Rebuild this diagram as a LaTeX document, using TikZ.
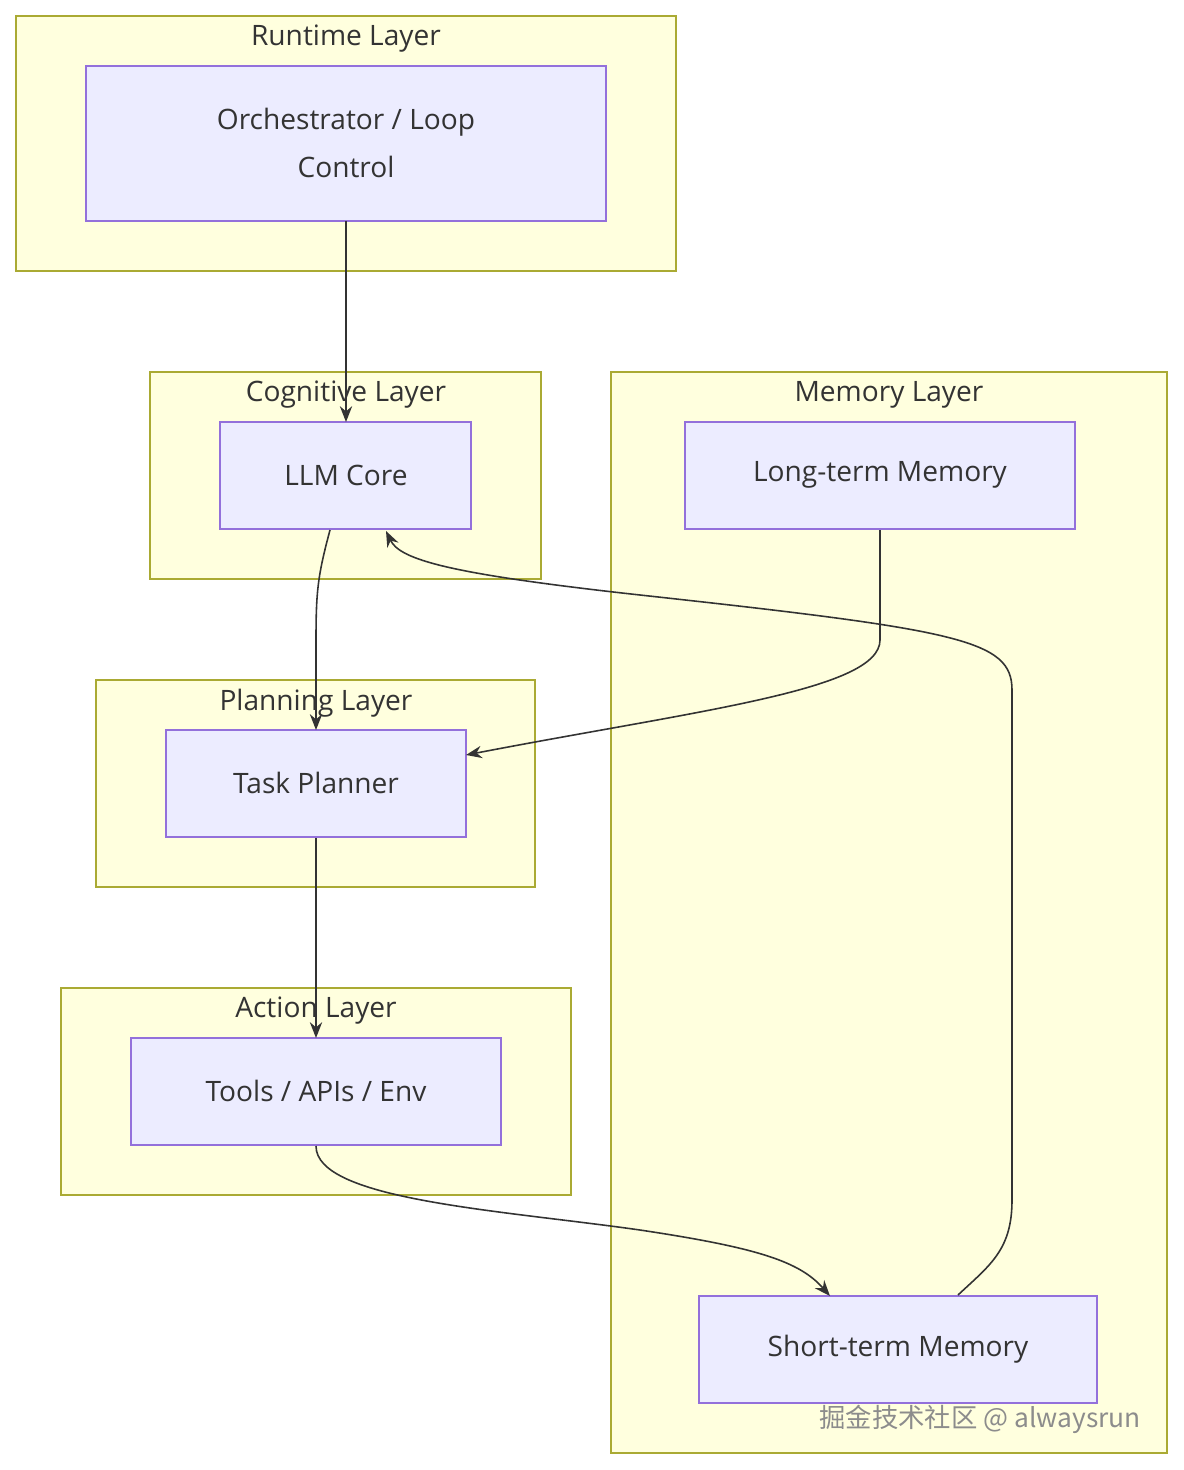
\documentclass[tikz,border=0pt]{standalone}
\usepackage{fontspec}
\setmainfont{Open Sans}
\newfontfamily\cjkfont{Noto Sans CJK SC}
\usetikzlibrary{arrows.meta,positioning,calc}
\definecolor{clusterfill}{HTML}{FFFFDE}
\definecolor{clusterline}{HTML}{AAAA33}
\definecolor{boxfill}{HTML}{ECECFF}
\definecolor{boxline}{HTML}{9370DB}
\begin{document}
\begin{tikzpicture}[
        % one unit is one pixel of the reference
        x=0.02cm, y=-0.02cm,
        layer/.style={draw=clusterline, fill=clusterfill, line width=0.9pt},
        box/.style={draw=boxline, fill=boxfill, line width=0.9pt},
        title/.style={font=\fontsize{16}{20}\selectfont, text=black!80},
        label/.style={font=\fontsize{16}{27}\selectfont, text=black!80, align=center},
        flow/.style={draw=black!80, line width=0.9pt, -{Stealth[length=9pt,width=7pt]}}
    ]
    \useasboundingbox (0,0) rectangle (1183,1470);

    % Layers
    \draw[layer] (16,16) rectangle (676,271);
    \node[title] (runtime) at (346,39) {Runtime Layer};
    \draw[layer] (150,372) rectangle (541,579);
    \node[title] (cognitive) at (346,395) {Cognitive Layer};
    \draw[layer] (611,372) rectangle (1167,1453);
    \node[title] (memory) at (889,395) {Memory Layer};
    \draw[layer] (96,680) rectangle (535,887);
    \node[title] (planning) at (316,703) {Planning Layer};
    \draw[layer] (61,988) rectangle (571,1195);
    \node[title] (action) at (316,1011) {Action Layer};

    % Components
    \draw[box] (86,66) rectangle (606,221);
    \node[label] (orch) at (346,143) {Orchestrator / Loop\\Control};
    \coordinate (orchS) at (346,221);
    \draw[box] (220,422) rectangle (471,529);
    \node[label] (llm) at (346,475) {LLM Core};
    \draw[box] (685,422) rectangle (1075,529);
    \node[label] (ltm) at (880,475) {Long-term Memory};
    \draw[box] (166,730) rectangle (466,837);
    \node[label] (task) at (316,783) {Task Planner};
    \draw[box] (131,1038) rectangle (501,1145);
    \node[label] (tools) at (316,1091) {Tools / APIs / Env};
    \draw[box] (699,1296) rectangle (1097,1403);
    \node[label] (stm) at (898,1349) {Short-term Memory};

    % Anchors of the connectors
    \coordinate (llmN) at (346,422);
    \coordinate (llmS) at (330,530);
    \coordinate (llmR) at (386,531);
    \coordinate (ltmS) at (880,530);
    \coordinate (taskN) at (316,730);
    \coordinate (taskS) at (316,838);
    \coordinate (taskE) at (466,755);
    \coordinate (toolsN) at (316,1038);
    \coordinate (toolsS) at (316,1146);
    \coordinate (stmN) at (830,1296);
    \coordinate (stmOut) at (958,1295);

    % Connectors
    \draw[flow] (orchS) -- (llmN);
    \draw[flow] (llmS) .. controls (318,575) and (316,590) .. (316,640) -- (taskN);
    \draw[flow] (ltmS) -- (880,640) .. controls (880,690) and (700,710) .. (taskE);
    \draw[flow] (taskS) -- (toolsN);
    \draw[flow] (toolsS) .. controls (316,1200) and (500,1210) .. (640,1230)
        .. controls (760,1248) and (800,1262) .. (stmN);
    \draw[flow] (stmOut) .. controls (990,1265) and (1012,1250) .. (1012,1200) -- (1012,690)
        .. controls (1012,640) and (960,630) .. (640,595)
        .. controls (450,574) and (400,560) .. (llmR);

    % Watermark
    \node[font=\cjkfont\fontsize{15}{18}\selectfont, text=black!45, anchor=east] (mark) at (1147,1419) {掘金技术社区 @ alwaysrun};
\end{tikzpicture}
\end{document}
